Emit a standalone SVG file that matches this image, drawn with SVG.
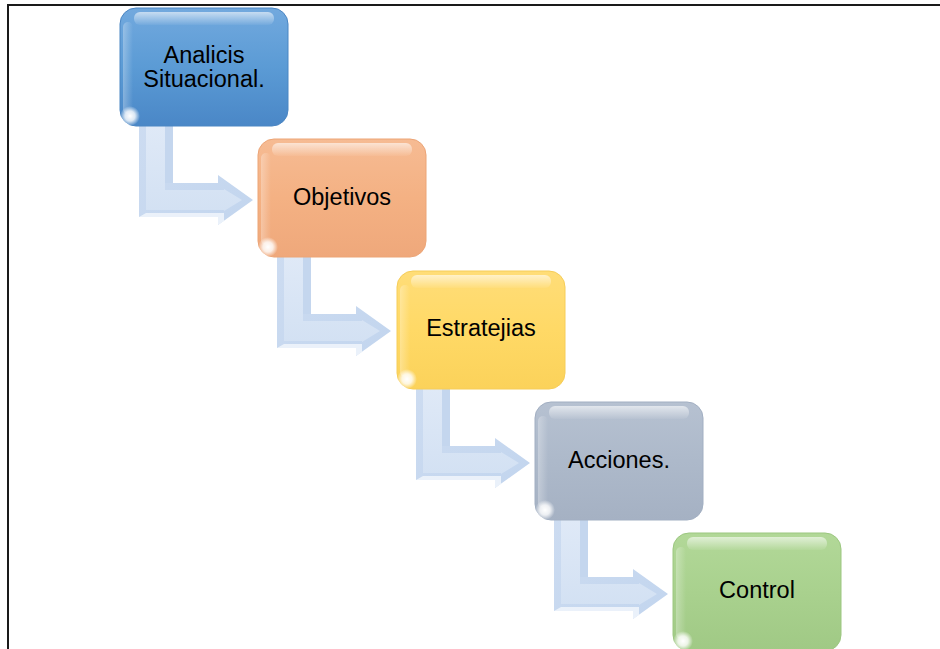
<svg xmlns="http://www.w3.org/2000/svg" width="940" height="649" viewBox="0 0 940 649">
  <defs>
    <style>
      .lbl { font-family: "Liberation Sans", Arial, sans-serif; font-size: 23.5px; fill: #000; text-anchor: middle; }
      .frame { stroke: #1a1a1a; stroke-width: 2; fill: none; }
      .gloss { fill: url(#gloss); }
      .glow { fill: url(#glow); }
      .sheen { fill: url(#sheen); }
    </style>
    <linearGradient id="gBlue" x1="0" y1="0" x2="0" y2="1">
      <stop offset="0" stop-color="#72a9de"/>
      <stop offset="0.5" stop-color="#5b9bd5"/>
      <stop offset="1" stop-color="#4a87c7"/>
    </linearGradient>
    <linearGradient id="gOrange" x1="0" y1="0" x2="0" y2="1">
      <stop offset="0" stop-color="#f6bb93"/>
      <stop offset="0.5" stop-color="#f4b183"/>
      <stop offset="1" stop-color="#efa87b"/>
    </linearGradient>
    <linearGradient id="gYellow" x1="0" y1="0" x2="0" y2="1">
      <stop offset="0" stop-color="#ffdd78"/>
      <stop offset="0.5" stop-color="#ffd966"/>
      <stop offset="1" stop-color="#fbd25a"/>
    </linearGradient>
    <linearGradient id="gGrey" x1="0" y1="0" x2="0" y2="1">
      <stop offset="0" stop-color="#b6c1d1"/>
      <stop offset="0.5" stop-color="#adb9ca"/>
      <stop offset="1" stop-color="#a5b1c3"/>
    </linearGradient>
    <linearGradient id="gGreen" x1="0" y1="0" x2="0" y2="1">
      <stop offset="0" stop-color="#b2d898"/>
      <stop offset="0.5" stop-color="#a9d18e"/>
      <stop offset="1" stop-color="#a0c985"/>
    </linearGradient>
    <linearGradient id="gloss" x1="0" y1="0" x2="0" y2="1">
      <stop offset="0" stop-color="#fff" stop-opacity="0.6"/>
      <stop offset="1" stop-color="#fff" stop-opacity="0.05"/>
    </linearGradient>
    <linearGradient id="sheen" x1="0" y1="0" x2="1" y2="0">
      <stop offset="0" stop-color="#fff" stop-opacity="0.3"/>
      <stop offset="1" stop-color="#fff" stop-opacity="0"/>
    </linearGradient>
    <radialGradient id="glow">
      <stop offset="0" stop-color="#fff" stop-opacity="1"/>
      <stop offset="0.5" stop-color="#fff" stop-opacity="0.8"/>
      <stop offset="1" stop-color="#fff" stop-opacity="0"/>
    </radialGradient>
    <linearGradient id="gArrow" x1="0" y1="0" x2="1" y2="1">
      <stop offset="0" stop-color="#cddcf1"/>
      <stop offset="1" stop-color="#c2d5ee"/>
    </linearGradient>
    <linearGradient id="gArrowFace" x1="0" y1="0" x2="0" y2="1">
      <stop offset="0" stop-color="#dfe9f7"/>
      <stop offset="1" stop-color="#d3e1f3"/>
    </linearGradient>
    <!-- bent arrow, coordinates relative to the top-left of the box it leaves -->
    <g id="bentArrow">
      <path d="M19,110 H53 V175 H98 V167 L133,192 L98,217 V209 H19 Z" fill="url(#gArrow)"/>
      <path d="M26,118 H45 V182 H104 V181 L122,192 L104,203 V202 H26 Z" fill="url(#gArrowFace)"/>
      <path d="M19,209 H98 V217 L104,213 V205 H26 Z" fill="#f1f6fc" opacity="0.85"/>
      <path d="M45,118 H53 V175 H45 Z" fill="#c4d6ee"/>
    </g>
    <!-- shared box decorations: top gloss band, left sheen, corner glow -->
    <g id="boxFx">
      <rect x="14" y="4" width="140" height="13" rx="6" class="gloss"/>
      <rect x="3" y="14" width="10" height="92" rx="5" class="sheen"/>
      <circle cx="10" cy="108" r="10" class="glow"/>
    </g>
  </defs>

  <rect width="940" height="649" fill="#fff"/>
  <path class="frame" d="M8,649 V5 H940"/>

  <g id="connectors">
    <use href="#bentArrow" transform="translate(120,8)"/>
    <use href="#bentArrow" transform="translate(258,139)"/>
    <use href="#bentArrow" transform="translate(397,271)"/>
    <use href="#bentArrow" transform="translate(535,402)"/>
  </g>

  <g id="analisis" transform="translate(120,8)">
    <rect width="168" height="118" rx="16" fill="url(#gBlue)" stroke="#4b86c3" stroke-width="1"/>
    <use href="#boxFx"/>
    <text class="lbl" x="84" y="55">Analicis</text>
    <text class="lbl" x="84" y="79">Situacional.</text>
  </g>

  <g id="objetivos" transform="translate(258,139)">
    <rect width="168" height="118" rx="16" fill="url(#gOrange)" stroke="#eca577" stroke-width="1"/>
    <use href="#boxFx"/>
    <text class="lbl" x="84" y="66">Objetivos</text>
  </g>

  <g id="estratejias" transform="translate(397,271)">
    <rect width="168" height="118" rx="16" fill="url(#gYellow)" stroke="#f6cd58" stroke-width="1"/>
    <use href="#boxFx"/>
    <text class="lbl" x="84" y="65">Estratejias</text>
  </g>

  <g id="acciones" transform="translate(535,402)">
    <rect width="168" height="118" rx="16" fill="url(#gGrey)" stroke="#a2afc2" stroke-width="1"/>
    <use href="#boxFx"/>
    <text class="lbl" x="84" y="66">Acciones.</text>
  </g>

  <g id="control" transform="translate(673,533)">
    <rect width="168" height="118" rx="16" fill="url(#gGreen)" stroke="#9cc780" stroke-width="1"/>
    <use href="#boxFx"/>
    <text class="lbl" x="84" y="65">Control</text>
  </g>
</svg>
